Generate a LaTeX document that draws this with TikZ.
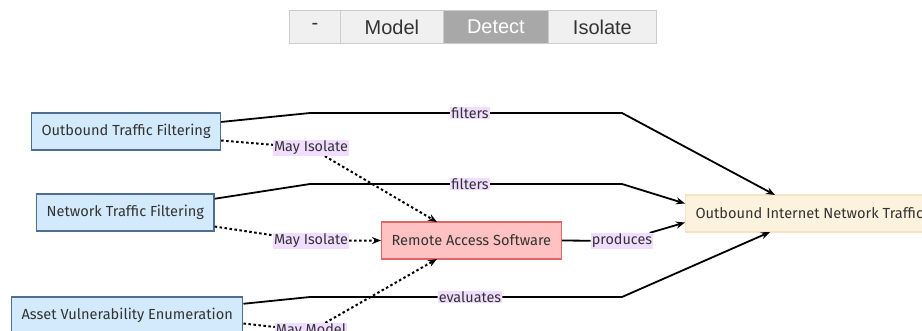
\documentclass[tikz,border=0pt]{standalone}
\usepackage{fontspec}
\setmainfont{Fira Sans}
\newfontfamily\btnfont{Liberation Sans}
\usetikzlibrary{arrows.meta,calc}
\definecolor{btnfill}{HTML}{F0F0F0}
\definecolor{btnline}{HTML}{CCCCCC}
\definecolor{btnact}{HTML}{A8A8A8}
\definecolor{bluefill}{HTML}{D2EAFB}
\definecolor{blueline}{HTML}{4E6E8E}
\definecolor{redfill}{HTML}{FFC2C2}
\definecolor{redline}{HTML}{E06666}
\definecolor{yelfill}{HTML}{FDF2DE}
\definecolor{yelline}{HTML}{F3E4C4}
\definecolor{lblfill}{HTML}{F0DDFF}
\definecolor{txt}{HTML}{333333}
\tikzset{
  btn/.style={draw=btnline, fill=btnfill, line width=0.8pt, minimum height=33pt, inner sep=0pt, font=\btnfont\fontsize{20}{22}\selectfont, text=txt, anchor=west},
  box/.style={draw, line width=1.2pt, minimum height=37pt, inner xsep=10pt, font=\fontsize{14.6}{16}\selectfont, text=txt, anchor=west},
  bluebox/.style={box, fill=bluefill, draw=blueline},
  redbox/.style={box, fill=redfill, draw=redline},
  yelbox/.style={box, fill=yelfill, draw=yelline},
  lbl/.style={fill=lblfill, inner xsep=1pt, inner ysep=1pt, font=\fontsize{14.4}{16}\selectfont, text=txt},
  edge/.style={line width=1.8pt, -{Stealth[length=9pt,width=7pt]}},
  dotedge/.style={line width=2pt, dash pattern=on 2.5pt off 2.5pt, -{Stealth[length=9pt,width=7pt]}},
}
\begin{document}
\begin{tikzpicture}[x=1pt,y=-1pt]
\useasboundingbox (0,0) rectangle (922,330);
\clip (0,0) rectangle (922,330);
% buttons
\node[btn, minimum width=51pt] (b1) at (289,27) {\raisebox{1pt}{-}};
\node[btn, minimum width=103pt] (b2) at (340,27) {Model};
\node[btn, minimum width=105pt, fill=btnact, text=white] (b3) at (443,27) {Detect};
\node[btn, minimum width=108pt] (b4) at (548,27) {Isolate};
% nodes
\node[bluebox] (otf) at (31,131.5) {Outbound Traffic Filtering};
\node[bluebox] (ntf) at (36,212.5) {Network Traffic Filtering};
\node[bluebox] (ave) at (11,315.5) {Asset Vulnerability Enumeration};
\node[redbox] (ras) at (381,240.5) {Remote Access Software};
\node[yelbox] (oint) at (685,213.5) {Outbound Internet Network Traffic};
% bend points
\coordinate (p1a) at (310,113); \coordinate (p1b) at (622,113);
\coordinate (p2a) at (310,184); \coordinate (p2b) at (622,184);
\coordinate (p4a) at (310,297); \coordinate (p4b) at (622,297);
\coordinate (t1) at (775,195); \coordinate (t4) at (770,232);
\coordinate (r1) at (437,222); \coordinate (r7) at (437,259);
% labels
\node[lbl] (l1) at (470,113) {filters};
\node[lbl] (l2) at (470,184) {filters};
\node[lbl] (l3) at (622,241) {produces};
\node[lbl] (l4) at (470,297) {evaluates};
\node[lbl] (l5) at (311,148) {May Isolate};
\node[lbl] (l6) at (311,241) {May Isolate};
\node[lbl] (l7) at (311,331) {May Model};
% solid edges
\draw[edge] (otf) -- (p1a) -- (l1) -- (p1b) -- (t1);
\draw[edge] (ntf) -- (p2a) -- (l2) -- (p2b) -- ([yshift=10pt]oint.west);
\draw[edge] (ras.east) -- (l3) -- ([yshift=-9pt]oint.west);
\draw[edge] (ave) -- (p4a) -- (l4) -- (p4b) -- (t4);
% dotted edges
\draw[dotedge] ([yshift=-9pt]otf.east) -- (l5) -- (r1);
\draw[dotedge] ([yshift=-14pt]ntf.east) -- (l6) -- (ras.west);
\draw[dotedge] ([yshift=-8pt]ave.east) -- (l7) -- (r7);
% redraw labels on top
\node[lbl] at (l1) {filters};
\node[lbl] at (l2) {filters};
\node[lbl] at (l3) {produces};
\node[lbl] at (l4) {evaluates};
\node[lbl] at (l5) {May Isolate};
\node[lbl] at (l6) {May Isolate};
\node[lbl] at (l7) {May Model};
\end{tikzpicture}
\end{document}
